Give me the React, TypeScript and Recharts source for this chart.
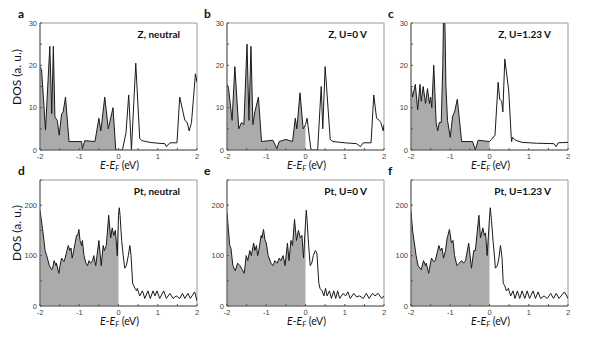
import React from 'react';
import { ComposedChart, Line, Area, XAxis, YAxis, ReferenceArea } from 'recharts';

const xTicks = [-2, -1.5, -1, -0.5, 0, 0.5, 1, 1.5, 2];
const xLabelTicks = [-2, -1, 0, 1, 2];
const zTicks = [0, 5, 10, 15, 20, 25, 30];
const zLabelTicks = [0, 10, 20, 30];
const ptTicks = [0, 50, 100, 150, 200, 250];
const ptLabelTicks = [0, 100, 200];

const aE = [-2.00,-1.96,-1.86,-1.75,-1.70,-1.66,-1.62,-1.56,-1.51,-1.45,-1.41,-1.35,-1.26,-0.94,-0.92,-0.86,-0.60,-0.50,-0.45,-0.35,-0.26,-0.14,-0.07,0.00,0.10,0.19,0.26,0.33,0.44,0.54,0.60,0.80,1.00,1.18,1.22,1.31,1.49,1.56,1.69,1.75,1.80,1.86,1.96,2.00];
const aDOS = [19.7,19,4.7,24.5,8.6,24.5,7.8,7,3.5,8.5,9,12.5,2,2,0.3,2.2,2,7.5,4.5,12.5,5,10,0,0,0,4,13,0,20.5,2.7,2.2,1.8,1.6,1.5,0.8,1.7,1.7,12.5,7,6.5,4.5,6.5,18,16];

const bE = [-2.00,-1.96,-1.87,-1.80,-1.70,-1.63,-1.57,-1.49,-1.44,-1.39,-1.34,-1.29,-1.20,-1.12,-0.83,-0.73,-0.67,-0.50,-0.33,-0.26,-0.22,-0.14,-0.06,0.00,0.04,0.14,0.31,0.40,0.44,0.50,0.63,0.70,1.00,1.30,1.40,1.47,1.67,1.74,1.81,1.88,1.92,1.98,2.00];
const bDOS = [15.5,14.5,7,19.7,5,6.5,6,25,7,24.5,6,9,12.5,2,2.3,0.3,2,2.5,2,7.5,5,13.5,5,6,7.5,0,0,15,5,19.7,2.5,2,1.7,1.5,0.8,1.7,1.7,13,7.5,7,6.5,4.5,6];

const cE = [-2.00,-1.96,-1.89,-1.83,-1.77,-1.74,-1.69,-1.63,-1.58,-1.53,-1.50,-1.47,-1.42,-1.36,-1.32,-1.28,-1.23,-1.19,-1.17,-1.14,-1.11,-1.07,-1.00,-0.94,-0.89,-0.82,-0.71,-0.43,-0.36,-0.29,0.00,0.05,0.14,0.22,0.26,0.31,0.34,0.39,0.45,0.49,0.56,0.59,0.66,0.83,1.20,1.64,1.70,1.75,2.00];
const cDOS = [15,12.5,15.5,9.5,15.5,11.5,15,11,14.5,11,12.5,10,20,6.5,4.5,6.5,6.5,20,32,32,15,7,3,8,9,12,2,2,0,2.3,2,2.5,3.5,16,12,11.5,9,21.5,17,14,2,3,2.3,1.8,1.6,1.5,0.8,1.7,1.8];

const dE = [-2.00,-1.93,-1.87,-1.83,-1.76,-1.70,-1.68,-1.64,-1.59,-1.58,
  -1.52,-1.49,-1.45,-1.39,-1.36,-1.28,-1.24,-1.21,-1.18,-1.14,
  -1.07,-1.04,-1.01,-0.98,-0.94,-0.92,-0.88,-0.83,-0.79,-0.75,
  -0.71,-0.66,-0.63,-0.58,-0.50,-0.44,-0.39,-0.36,-0.31,-0.25,
  -0.20,-0.16,-0.12,-0.08,-0.03,0.00,0.02,0.04,0.08,0.12,
  0.16,0.20,0.25,0.29,0.32,0.36,0.42,0.46,0.48,0.54,
  0.61,0.67,0.75,0.81,0.88,0.93,0.98,1.05,1.15,1.22,
  1.31,1.39,1.47,1.56,1.63,1.69,1.77,1.83,1.94,2.00];
const dDOS = [190,150,110,100,80,72,75,90,80,85,
  65,80,95,88,95,120,110,115,95,110,
  140,140,152,130,120,130,100,85,80,90,
  85,90,100,80,130,80,120,110,120,180,
  135,155,140,150,100,180,195,180,130,100,
  75,80,100,120,100,45,35,30,35,20,
  30,15,30,15,30,20,30,15,30,15,
  25,15,20,15,25,15,25,15,28,10];

const eE = [-2.00,-1.93,-1.90,-1.85,-1.79,-1.73,-1.67,-1.61,-1.56,-1.51,
  -1.47,-1.42,-1.38,-1.32,-1.29,-1.25,-1.22,-1.19,-1.13,-1.11,
  -1.07,-1.03,-1.00,-0.95,-0.88,-0.83,-0.78,-0.72,-0.67,-0.63,
  -0.57,-0.52,-0.46,-0.42,-0.37,-0.33,-0.28,-0.23,-0.18,-0.13,
  -0.09,-0.05,0.00,0.02,0.04,0.08,0.12,0.16,0.20,0.25,
  0.29,0.34,0.37,0.42,0.47,0.51,0.55,0.61,0.66,0.72,
  0.77,0.82,0.87,0.96,1.02,1.08,1.14,1.23,1.30,1.38,
  1.47,1.55,1.62,1.71,1.77,1.85,1.94,2.00];
const eDOS = [185,120,115,80,70,85,80,72,65,100,
  90,110,100,125,110,120,100,110,140,135,
  152,130,125,100,85,80,90,85,95,90,
  100,80,125,90,130,120,172,130,150,135,
  140,95,165,190,170,120,80,85,100,110,
  105,45,35,30,20,35,20,30,15,30,
  15,30,15,25,20,28,15,25,18,20,
  15,25,15,25,20,25,15,20];

const fE = [-2.00,-1.96,-1.87,-1.82,-1.74,-1.68,-1.63,-1.61,-1.55,-1.48,
  -1.42,-1.38,-1.29,-1.25,-1.21,-1.17,-1.12,-1.08,-1.06,-1.02,
  -0.97,-0.93,-0.89,-0.83,-0.77,-0.71,-0.66,-0.61,-0.53,-0.46,
  -0.40,-0.36,-0.27,-0.23,-0.17,-0.13,-0.10,-0.06,0.00,0.02,
  0.05,0.09,0.13,0.15,0.20,0.24,0.28,0.32,0.35,0.39,
  0.43,0.48,0.54,0.60,0.65,0.71,0.77,0.83,0.90,0.96,
  1.02,1.11,1.17,1.24,1.30,1.39,1.47,1.56,1.63,1.70,
  1.77,1.91,2.00];
const fDOS = [188,150,100,80,72,90,80,85,65,95,
  88,90,120,110,115,95,110,135,140,152,
  125,130,100,80,85,90,85,90,125,75,
  110,110,180,135,155,140,145,100,175,195,
  170,130,95,75,80,95,120,95,45,40,
  30,35,20,30,15,30,15,30,15,30,
  15,30,15,28,15,20,15,25,15,25,
  15,28,15];

const PLOT_W = 157;
const MT = 10;
const ML = 40;
const colLeft = [40, 227, 411];
const rowTop = [23, 180];
const rowH = [127, 126];

const tickFont = '"Liberation Sans", Arial, sans-serif';
const labelFont = 'Lato, "Open Sans", sans-serif';

type PanelProps = {
  letter: string; title: string; e: number[]; dos: number[];
  yMax: number; yTicks: number[]; yLabels: number[]; col: number; row: number; yLabel: boolean;
};

function Panel({ letter, title, e, dos, yMax, yTicks, yLabels, col, row, yLabel }: PanelProps) {
  const left = colLeft[col];
  const top = rowTop[row];
  const ph = rowH[row];
  const axisY = MT + ph;
  const data = e.map((x, i) => ({ e: x, dos: dos[i], fill: x <= 0 ? dos[i] : null }));
  const xTick = (p: any) => {
    const v = p.payload.value;
    const x = p.payload.coordinate ?? p.x;
    return (
      <g>
        <line x1={x} x2={x} y1={axisY} y2={axisY - 2} stroke="#555" strokeWidth={1} />
        {xLabelTicks.includes(v) && (
          <text x={x} y={axisY + 4} dy="0.71em" textAnchor="middle" fontSize={7.5}
            fill="#444" fontFamily={tickFont}>{String(v)}</text>
        )}
      </g>
    );
  };
  const yTick = (p: any) => {
    const v = p.payload.value;
    const y = p.payload.coordinate ?? p.y;
    return (
      <g>
        <line x1={ML} x2={ML + 2} y1={y} y2={y} stroke="#555" strokeWidth={1} />
        {yLabels.includes(v) && (
          <text x={ML - 3} y={y} dy="0.355em" textAnchor="end" fontSize={7.5}
            fill="#444" fontFamily={tickFont}>{String(v)}</text>
        )}
      </g>
    );
  };
  return (
    <>
      <div style={{ position: 'absolute', left: left - ML, top: top - MT }}>
        <ComposedChart width={ML + PLOT_W + 10} height={MT + ph + 25} data={data}
          margin={{ top: MT, right: 10, bottom: 0, left: 10 }}>
          <Area dataKey="fill" type="linear" fill="#ababab" fillOpacity={1} stroke="none"
            isAnimationActive={false} connectNulls={false} baseValue={0} />
          <Line dataKey="dos" type="linear" stroke="#1a1a1a" strokeWidth={1} dot={false}
            isAnimationActive={false} />
          <ReferenceArea x1={-2} x2={2} y1={0} y2={yMax} fill="none" stroke="#999" strokeWidth={1} />
          <XAxis dataKey="e" type="number" domain={[-2, 2]} ticks={xTicks} interval={0}
            allowDataOverflow tickLine={false} tickSize={2} height={25}
            axisLine={{ stroke: '#666' }} tick={xTick} />
          <YAxis type="number" domain={[0, yMax]} ticks={yTicks} interval={0}
            allowDataOverflow tickLine={false} tickSize={2} width={30}
            axisLine={{ stroke: '#666' }} tick={yTick} />
        </ComposedChart>
      </div>
      <div style={{ position: 'absolute', left: left - 22 - (col === 0 ? 0 : 1), top: top - 17,
        fontFamily: labelFont, fontWeight: 700, fontSize: 12, color: '#111' }}>{letter}</div>
      <div style={{ position: 'absolute', left: left, width: PLOT_W - 17, top: top + 5,
        textAlign: 'right', fontFamily: labelFont, fontWeight: 700, fontSize: 10, color: '#111',
        whiteSpace: 'nowrap' }}>{title}</div>
      <div style={{ position: 'absolute', left: left + 1, width: PLOT_W, top: top + ph + 10,
        height: 12, lineHeight: '10px',
        textAlign: 'center', fontFamily: labelFont, fontSize: 10.5, color: '#111', whiteSpace: 'nowrap' }}>
        <i>E</i>-<i>E</i><span style={{ fontSize: 7.5, position: 'relative', top: 2 }}><i>F</i></span> (eV)
      </div>
      {yLabel && (
        <div style={{ position: 'absolute', left: 17 - 40, top: top + ph / 2 - 17, width: 80,
          textAlign: 'center', transform: 'rotate(-90deg)', fontFamily: labelFont, fontSize: 12,
          color: '#111', whiteSpace: 'nowrap', lineHeight: '14px' }}>DOS (a. u.)</div>
      )}
    </>
  );
}

export default function App() {
  return (
    <div style={{ position: 'absolute', left: 0, top: 0, width: 600, height: 337, background: '#fff', overflow: 'hidden' }}>
      <Panel letter="a" title="Z, neutral" e={aE} dos={aDOS} yMax={30} yTicks={zTicks} yLabels={zLabelTicks} col={0} row={0} yLabel />
      <Panel letter="b" title="Z, U=0 V" e={bE} dos={bDOS} yMax={30} yTicks={zTicks} yLabels={zLabelTicks} col={1} row={0} yLabel={false} />
      <Panel letter="c" title="Z, U=1.23 V" e={cE} dos={cDOS} yMax={30} yTicks={zTicks} yLabels={zLabelTicks} col={2} row={0} yLabel={false} />
      <Panel letter="d" title="Pt, neutral" e={dE} dos={dDOS} yMax={250} yTicks={ptTicks} yLabels={ptLabelTicks} col={0} row={1} yLabel />
      <Panel letter="e" title="Pt, U=0 V" e={eE} dos={eDOS} yMax={250} yTicks={ptTicks} yLabels={ptLabelTicks} col={1} row={1} yLabel={false} />
      <Panel letter="f" title="Pt, U=1.23 V" e={fE} dos={fDOS} yMax={250} yTicks={ptTicks} yLabels={ptLabelTicks} col={2} row={1} yLabel={false} />
    </div>
  );
}
